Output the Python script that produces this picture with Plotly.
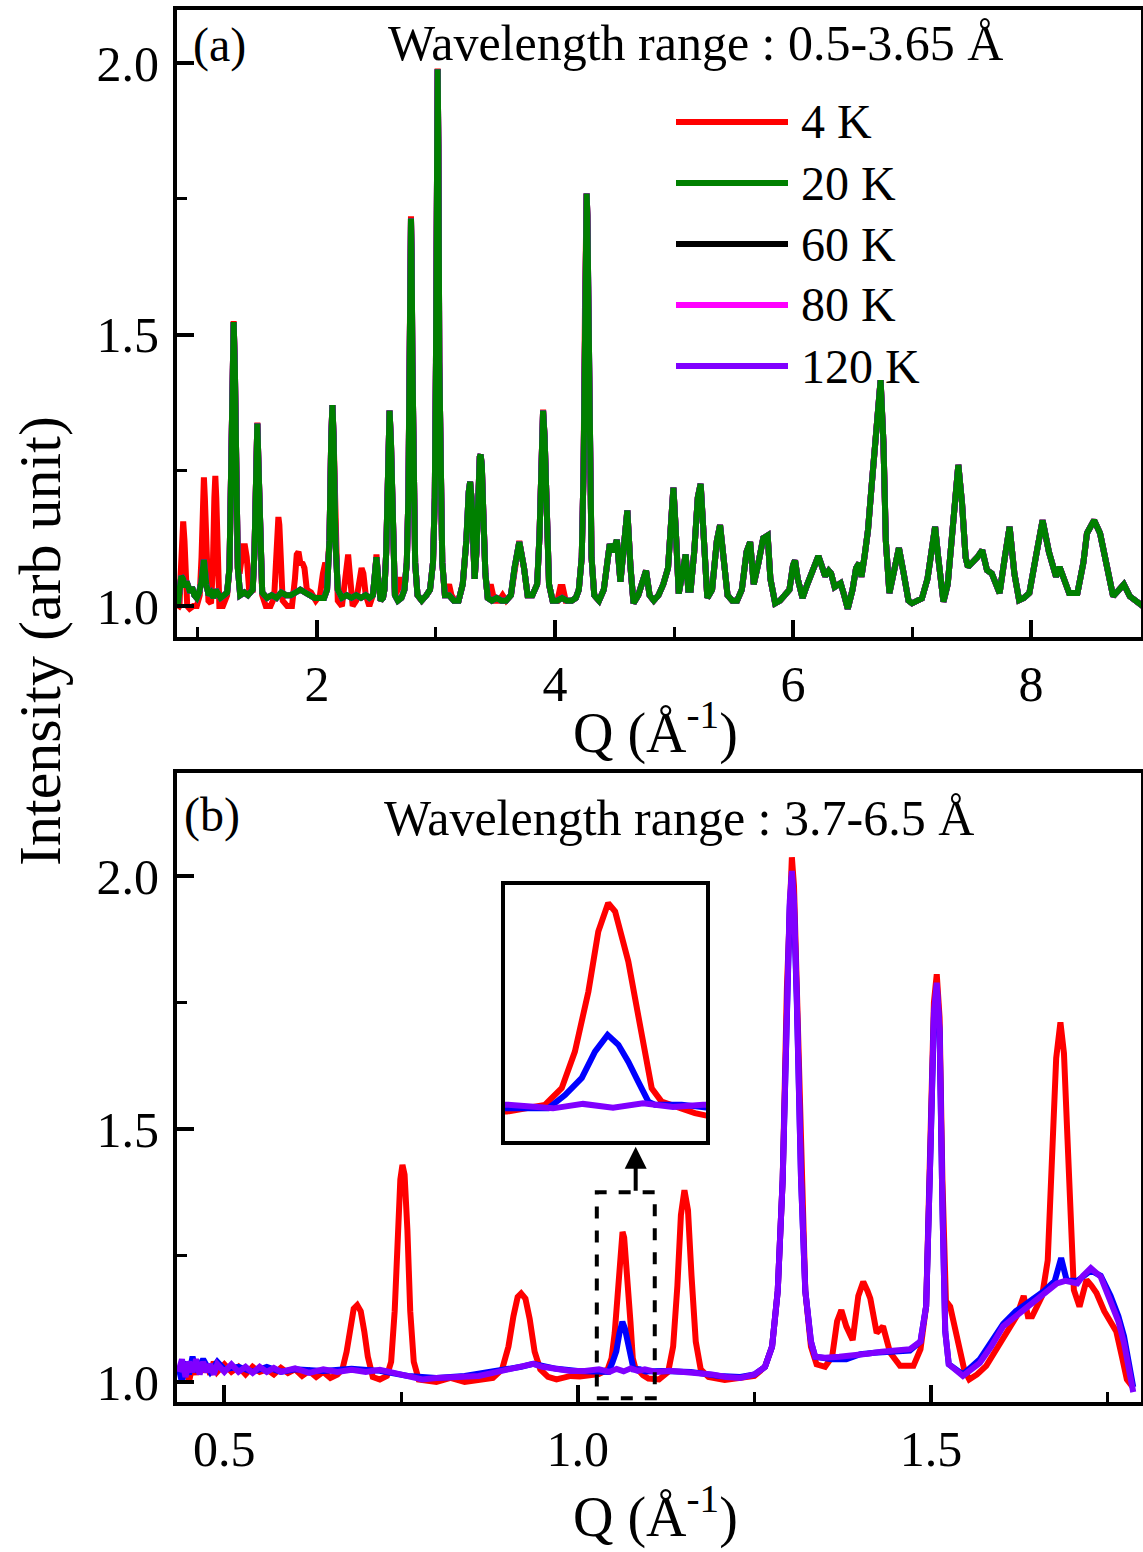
import plotly.graph_objects as go

W, H = 1143, 1552
FONT = "Liberation Serif, Times New Roman, serif"

# ---------------- Panel (a): wavelength range 0.5-3.65 A  (Q, intensity) ----------------
pts_20k = [
    (0.83, 1.00), (0.845, 1.04), (0.86, 1.055), (0.875, 1.05), (0.89, 1.035), (0.905, 1.045), (0.92, 1.03),
    (0.935, 1.025), (0.95, 1.035), (0.97, 1.02), (0.99, 1.015), (1.01, 1.025), (1.03, 1.045), (1.05, 1.085),
    (1.07, 1.04), (1.09, 1.02), (1.11, 1.025), (1.13, 1.015), (1.15, 1.03), (1.17, 1.02), (1.19, 1.015),
    (1.22, 1.02), (1.245, 1.025), (1.265, 1.07), (1.278, 1.2), (1.29, 1.44), (1.30, 1.523), (1.31, 1.44),
    (1.322, 1.2), (1.335, 1.07), (1.355, 1.02), (1.39, 1.025), (1.42, 1.02), (1.44, 1.025), (1.46, 1.03),
    (1.475, 1.10), (1.488, 1.25), (1.499, 1.336), (1.51, 1.25), (1.523, 1.10), (1.54, 1.025), (1.58, 1.015),
    (1.62, 1.02), (1.66, 1.015), (1.70, 1.025), (1.74, 1.02), (1.78, 1.02), (1.82, 1.025), (1.86, 1.03),
    (1.90, 1.025), (1.94, 1.02), (1.98, 1.015), (2.02, 1.015), (2.06, 1.015), (2.085, 1.03), (2.105, 1.12),
    (2.12, 1.31), (2.13, 1.37), (2.14, 1.31), (2.155, 1.12), (2.175, 1.03), (2.21, 1.015), (2.25, 1.02),
    (2.29, 1.015), (2.33, 1.02), (2.37, 1.015), (2.41, 1.02), (2.44, 1.015), (2.47, 1.02), (2.485, 1.05),
    (2.50, 1.09), (2.515, 1.05), (2.535, 1.01), (2.555, 1.015), (2.567, 1.03), (2.582, 1.10), (2.598, 1.30),
    (2.61, 1.36), (2.622, 1.30), (2.638, 1.10), (2.655, 1.02), (2.68, 1.01), (2.71, 1.015), (2.735, 1.03),
    (2.755, 1.08), (2.768, 1.20), (2.778, 1.45), (2.785, 1.65), (2.79, 1.714), (2.795, 1.65), (2.802, 1.45),
    (2.812, 1.20), (2.825, 1.08), (2.845, 1.02), (2.88, 1.01), (2.92, 1.02), (2.95, 1.03), (2.975, 1.08),
    (2.99, 1.20), (3.0, 1.45), (3.008, 1.85), (3.014, 1.989), (3.02, 1.85), (3.028, 1.45), (3.038, 1.20),
    (3.053, 1.08), (3.075, 1.02), (3.11, 1.02), (3.15, 1.01), (3.19, 1.01), (3.225, 1.04), (3.255, 1.12),
    (3.275, 1.21), (3.287, 1.229), (3.298, 1.20), (3.312, 1.10), (3.325, 1.05), (3.34, 1.10), (3.355, 1.22),
    (3.368, 1.275), (3.375, 1.279), (3.385, 1.26), (3.398, 1.17), (3.415, 1.06), (3.435, 1.015), (3.47, 1.01),
    (3.51, 1.015), (3.55, 1.01), (3.59, 1.01), (3.63, 1.02), (3.66, 1.07), (3.70, 1.118), (3.74, 1.07),
    (3.77, 1.02), (3.81, 1.02), (3.85, 1.04), (3.87, 1.13), (3.887, 1.31), (3.90, 1.36), (3.913, 1.31),
    (3.93, 1.13), (3.95, 1.04), (3.98, 1.01), (4.02, 1.01), (4.06, 1.015), (4.10, 1.01), (4.14, 1.01),
    (4.175, 1.015), (4.20, 1.03), (4.225, 1.09), (4.24, 1.25), (4.252, 1.55), (4.26, 1.72), (4.266, 1.76),
    (4.272, 1.72), (4.28, 1.55), (4.292, 1.25), (4.307, 1.09), (4.33, 1.02), (4.37, 1.01), (4.41, 1.03),
    (4.44, 1.09), (4.46, 1.114), (4.49, 1.10), (4.52, 1.122), (4.55, 1.045), (4.58, 1.12), (4.608, 1.176),
    (4.635, 1.07), (4.66, 1.005), (4.70, 1.02), (4.735, 1.05), (4.765, 1.065), (4.795, 1.02), (4.83, 1.01),
    (4.87, 1.02), (4.91, 1.04), (4.95, 1.07), (4.975, 1.16), (4.995, 1.218), (5.015, 1.14), (5.04, 1.023),
    (5.07, 1.06), (5.098, 1.095), (5.12, 1.03), (5.14, 1.03), (5.17, 1.10), (5.2, 1.20), (5.224, 1.225),
    (5.25, 1.12), (5.28, 1.015), (5.32, 1.03), (5.36, 1.12), (5.387, 1.149), (5.41, 1.10), (5.45, 1.02),
    (5.49, 1.01), (5.53, 1.01), (5.57, 1.03), (5.61, 1.10), (5.64, 1.118), (5.67, 1.04), (5.71, 1.08),
    (5.75, 1.125), (5.787, 1.13), (5.81, 1.05), (5.85, 1.005), (5.89, 1.01), (5.93, 1.02), (5.97, 1.03),
    (6.0, 1.075), (6.017, 1.084), (6.04, 1.05), (6.08, 1.015), (6.12, 1.04), (6.16, 1.06), (6.19, 1.08),
    (6.213, 1.092), (6.24, 1.075), (6.27, 1.055), (6.30, 1.065), (6.32, 1.06), (6.35, 1.035), (6.40, 1.042),
    (6.43, 1.02), (6.46, 0.995), (6.50, 1.03), (6.53, 1.07), (6.556, 1.079), (6.575, 1.054), (6.60, 1.09),
    (6.63, 1.14), (6.66, 1.22), (6.70, 1.33), (6.736, 1.416), (6.76, 1.30), (6.78, 1.12), (6.81, 1.024),
    (6.85, 1.07), (6.89, 1.107), (6.93, 1.06), (6.97, 1.01), (7.0, 1.005), (7.04, 1.01), (7.083, 1.014),
    (7.13, 1.05), (7.17, 1.12), (7.194, 1.146), (7.22, 1.09), (7.264, 1.008), (7.30, 1.04), (7.35, 1.17),
    (7.389, 1.26), (7.42, 1.19), (7.45, 1.09), (7.47, 1.072), (7.51, 1.08), (7.55, 1.09), (7.59, 1.103),
    (7.63, 1.066), (7.67, 1.06), (7.70, 1.04), (7.736, 1.024), (7.78, 1.09), (7.82, 1.146), (7.86, 1.06),
    (7.90, 1.011), (7.94, 1.015), (7.986, 1.024), (8.04, 1.09), (8.097, 1.158), (8.15, 1.10), (8.21, 1.054),
    (8.24, 1.072), (8.28, 1.045), (8.32, 1.024), (8.39, 1.024), (8.44, 1.08), (8.47, 1.134), (8.53, 1.158),
    (8.58, 1.134), (8.63, 1.08), (8.69, 1.018), (8.74, 1.03), (8.78, 1.04), (8.83, 1.018), (8.88, 1.01),
    (8.92, 1.005), (8.94, 1.0),
]

# 4 K below Q = 4.2 (extra magnetic peaks); above that it follows the same nuclear pattern
pts_4k_low = [
    (0.83, 0.995), (0.845, 1.00), (0.855, 1.06), (0.865, 1.13), (0.876, 1.156), (0.887, 1.12), (0.897, 1.04),
    (0.91, 1.00), (0.93, 0.995), (0.96, 1.00), (0.99, 1.00), (1.015, 1.02), (1.03, 1.09), (1.042, 1.20),
    (1.05, 1.237), (1.058, 1.20), (1.07, 1.09), (1.088, 1.01), (1.11, 1.005), (1.125, 1.07), (1.138, 1.20),
    (1.146, 1.24), (1.154, 1.20), (1.165, 1.07), (1.18, 1.00), (1.21, 1.00), (1.245, 1.02), (1.265, 1.07),
    (1.278, 1.2), (1.29, 1.44), (1.30, 1.525), (1.31, 1.44), (1.322, 1.2), (1.335, 1.07), (1.35, 1.06),
    (1.365, 1.10), (1.38, 1.11), (1.395, 1.11), (1.41, 1.09), (1.43, 1.03), (1.46, 1.03), (1.475, 1.10),
    (1.488, 1.25), (1.499, 1.338), (1.51, 1.25), (1.523, 1.10), (1.54, 1.02), (1.57, 1.00), (1.61, 1.00),
    (1.64, 1.015), (1.655, 1.08), (1.668, 1.15), (1.676, 1.164), (1.684, 1.15), (1.697, 1.08), (1.712, 1.01),
    (1.75, 1.00), (1.79, 1.00), (1.815, 1.05), (1.83, 1.095), (1.845, 1.10), (1.86, 1.08), (1.88, 1.078),
    (1.895, 1.07), (1.915, 1.03), (1.95, 1.025), (1.99, 1.01), (2.025, 1.02), (2.05, 1.06), (2.07, 1.08),
    (2.085, 1.06), (2.105, 1.12), (2.12, 1.31), (2.13, 1.37), (2.14, 1.31), (2.155, 1.12), (2.175, 1.01),
    (2.21, 1.00), (2.235, 1.05), (2.25, 1.09), (2.262, 1.095), (2.28, 1.05), (2.30, 1.00), (2.33, 1.01),
    (2.355, 1.05), (2.375, 1.07), (2.39, 1.06), (2.41, 1.02), (2.44, 1.00), (2.47, 1.02), (2.485, 1.05),
    (2.50, 1.095), (2.515, 1.05), (2.535, 1.01), (2.555, 1.015), (2.567, 1.03), (2.582, 1.10), (2.598, 1.30),
    (2.61, 1.36), (2.622, 1.30), (2.638, 1.10), (2.655, 1.02), (2.68, 1.03), (2.70, 1.053), (2.72, 1.035),
    (2.735, 1.03), (2.755, 1.08), (2.768, 1.20), (2.778, 1.45), (2.785, 1.65), (2.79, 1.718), (2.795, 1.65),
    (2.802, 1.45), (2.812, 1.20), (2.825, 1.08), (2.845, 1.02), (2.88, 1.01), (2.92, 1.02), (2.95, 1.03),
    (2.975, 1.08), (2.99, 1.20), (3.0, 1.45), (3.008, 1.85), (3.014, 1.99), (3.02, 1.85), (3.028, 1.45),
    (3.038, 1.20), (3.053, 1.08), (3.075, 1.02), (3.095, 1.035), (3.11, 1.04), (3.13, 1.02), (3.16, 1.01),
    (3.19, 1.01), (3.225, 1.04), (3.255, 1.12), (3.275, 1.21), (3.287, 1.229), (3.298, 1.20), (3.312, 1.10),
    (3.325, 1.05), (3.34, 1.10), (3.355, 1.22), (3.368, 1.275), (3.375, 1.279), (3.385, 1.26), (3.398, 1.17),
    (3.415, 1.06), (3.435, 1.015), (3.46, 1.04), (3.49, 1.01), (3.53, 1.01), (3.56, 1.02), (3.59, 1.01),
    (3.63, 1.02), (3.66, 1.07), (3.70, 1.12), (3.74, 1.07), (3.77, 1.02), (3.81, 1.02), (3.85, 1.04),
    (3.87, 1.13), (3.887, 1.31), (3.90, 1.362), (3.913, 1.31), (3.93, 1.13), (3.95, 1.04), (3.98, 1.01),
    (4.02, 1.01), (4.045, 1.035), (4.065, 1.035), (4.09, 1.01), (4.14, 1.01), (4.175, 1.015),
]
_split = [q for q, _ in pts_20k].index(4.20)
pts_4k = pts_4k_low + pts_20k[_split:]

series_a = [  # label, colour, points -- drawing order (20 K ends on top)
    ("4 K", "#ff0000", pts_4k),
    ("60 K", "#000000", pts_20k),
    ("80 K", "#ff00ff", pts_20k),
    ("120 K", "#8000ff", pts_20k),
    ("20 K", "#008000", pts_20k),
]
legend_labels = ["4 K", "20 K", "60 K", "80 K", "120 K"]
legend_colors = ["#ff0000", "#008000", "#000000", "#ff00ff", "#8000ff"]

# ---------------- Panel (b): wavelength range 3.7-6.5 A ----------------
pts_red_b = [
    (0.435, 1.03), (0.44, 1.01), (0.445, 1.04), (0.45, 1.00), (0.455, 1.035), (0.46, 1.015), (0.465, 1.04),
    (0.47, 1.02), (0.475, 1.035), (0.48, 1.015), (0.485, 1.04), (0.49, 1.02), (0.50, 1.035), (0.51, 1.02),
    (0.52, 1.03), (0.53, 1.015), (0.54, 1.03), (0.55, 1.02), (0.56, 1.025), (0.57, 1.015), (0.58, 1.028),
    (0.59, 1.018), (0.60, 1.025), (0.61, 1.012), (0.62, 1.022), (0.63, 1.01), (0.64, 1.02), (0.65, 1.008),
    (0.66, 1.015), (0.667, 1.025), (0.673, 1.06), (0.678, 1.11), (0.683, 1.145), (0.688, 1.152), (0.693, 1.14),
    (0.698, 1.10), (0.703, 1.05), (0.71, 1.01), (0.72, 1.005), (0.73, 1.012), (0.736, 1.04), (0.741, 1.14),
    (0.745, 1.29), (0.749, 1.40), (0.752, 1.429), (0.755, 1.41), (0.759, 1.30), (0.763, 1.14), (0.768, 1.04),
    (0.775, 1.005), (0.80, 1.00), (0.82, 1.008), (0.84, 1.00), (0.86, 1.005), (0.88, 1.008), (0.893, 1.025),
    (0.902, 1.07), (0.909, 1.13), (0.915, 1.168), (0.920, 1.175), (0.926, 1.165), (0.932, 1.125), (0.939, 1.06),
    (0.947, 1.025), (0.958, 1.01), (0.97, 1.005), (0.99, 1.012), (1.003, 1.011), (1.02, 1.015),
    (1.0296, 1.0157), (1.0423, 1.0247), (1.0479, 1.0472), (1.0523, 1.0965), (1.0568, 1.1774),
    (1.0601, 1.2583), (1.0634, 1.2966), (1.0657, 1.2853), (1.0701, 1.2179), (1.0746, 1.1191),
    (1.0779, 1.0472), (1.0812, 1.0291), (1.0879, 1.0202), (1.0923, 1.0135), (1.10, 1.007), (1.115, 1.005),
    (1.128, 1.02), (1.135, 1.07), (1.141, 1.19), (1.146, 1.33), (1.151, 1.379), (1.156, 1.34), (1.161, 1.21),
    (1.167, 1.08), (1.174, 1.025), (1.185, 1.01), (1.208, 1.004), (1.23, 1.008), (1.25, 1.012), (1.265, 1.03),
    (1.275, 1.07), (1.283, 1.18), (1.29, 1.40), (1.296, 1.78), (1.300, 1.98), (1.303, 2.037), (1.306, 1.98),
    (1.310, 1.78), (1.316, 1.40), (1.322, 1.18), (1.33, 1.07), (1.338, 1.035), (1.35, 1.03), (1.36, 1.05),
    (1.367, 1.12), (1.373, 1.142), (1.38, 1.11), (1.389, 1.083), (1.397, 1.17), (1.404, 1.198), (1.41, 1.18),
    (1.414, 1.165), (1.423, 1.097), (1.432, 1.11), (1.442, 1.058), (1.456, 1.032), (1.475, 1.032),
    (1.485, 1.065), (1.493, 1.15), (1.499, 1.45), (1.504, 1.75), (1.508, 1.806), (1.512, 1.72), (1.516, 1.40),
    (1.521, 1.16), (1.527, 1.149), (1.54, 1.064), (1.547, 1.024), (1.554, 1.005), (1.565, 1.015),
    (1.578, 1.032), (1.59, 1.06), (1.602, 1.084), (1.612, 1.11), (1.621, 1.13), (1.631, 1.17), (1.637, 1.13),
    (1.643, 1.13), (1.65, 1.15), (1.657, 1.17), (1.665, 1.24), (1.671, 1.42), (1.677, 1.64), (1.683, 1.711),
    (1.688, 1.65), (1.693, 1.48), (1.697, 1.34), (1.702, 1.182), (1.71, 1.149), (1.72, 1.202), (1.727, 1.19),
    (1.734, 1.176), (1.745, 1.14), (1.753, 1.123), (1.762, 1.10), (1.77, 1.05), (1.777, 1.005), (1.786, 0.989),
]

pts_blue_b = [
    (0.435, 1.03), (0.44, 1.00), (0.445, 1.04), (0.45, 1.015), (0.455, 1.05), (0.46, 1.02), (0.47, 1.045),
    (0.48, 1.02), (0.49, 1.04), (0.50, 1.025), (0.52, 1.03), (0.54, 1.02), (0.56, 1.03), (0.58, 1.02),
    (0.60, 1.025), (0.64, 1.022), (0.68, 1.026), (0.72, 1.022), (0.76, 1.012), (0.80, 1.008), (0.84, 1.012),
    (0.88, 1.02), (0.92, 1.03), (0.937, 1.036), (0.97, 1.026), (1.00, 1.022), (1.0296, 1.02), (1.0434, 1.020),
    (1.049, 1.038), (1.0546, 1.061), (1.059, 1.0965), (1.0632, 1.119), (1.0668, 1.1056), (1.0701, 1.083),
    (1.0734, 1.056), (1.0768, 1.029), (1.079, 1.025), (1.0879, 1.025), (1.096, 1.021), (1.12, 1.022),
    (1.16, 1.02), (1.20, 1.012), (1.23, 1.01), (1.25, 1.015), (1.265, 1.03), (1.275, 1.07), (1.283, 1.18),
    (1.29, 1.40), (1.296, 1.75), (1.300, 1.94), (1.303, 2.00), (1.306, 1.94), (1.310, 1.75), (1.316, 1.40),
    (1.322, 1.18), (1.33, 1.08), (1.336, 1.05), (1.36, 1.045), (1.38, 1.045), (1.40, 1.055), (1.42, 1.058),
    (1.45, 1.06), (1.47, 1.062), (1.485, 1.08), (1.493, 1.15), (1.499, 1.45), (1.504, 1.72), (1.508, 1.78),
    (1.512, 1.69), (1.516, 1.35), (1.520, 1.10), (1.525, 1.035), (1.545, 1.015), (1.569, 1.045),
    (1.585, 1.08), (1.602, 1.115), (1.62, 1.14), (1.64, 1.16), (1.66, 1.18), (1.675, 1.20), (1.684, 1.245),
    (1.692, 1.20), (1.707, 1.20), (1.726, 1.22), (1.74, 1.21), (1.754, 1.17), (1.765, 1.13), (1.773, 1.09),
    (1.78, 1.04), (1.786, 0.99),
]

pts_purple_b = [
    (0.435, 1.02), (0.44, 1.045), (0.445, 1.01), (0.45, 1.04), (0.455, 1.02), (0.46, 1.045), (0.465, 1.015),
    (0.47, 1.04), (0.475, 1.02), (0.48, 1.035), (0.485, 1.015), (0.49, 1.035), (0.50, 1.02), (0.51, 1.035),
    (0.52, 1.02), (0.53, 1.03), (0.54, 1.018), (0.55, 1.03), (0.56, 1.02), (0.57, 1.028), (0.58, 1.02),
    (0.60, 1.027), (0.62, 1.018), (0.64, 1.025), (0.66, 1.02), (0.68, 1.024), (0.70, 1.02), (0.72, 1.024),
    (0.74, 1.018), (0.76, 1.01), (0.78, 1.005), (0.80, 1.008), (0.82, 1.01), (0.84, 1.012), (0.86, 1.012),
    (0.88, 1.018), (0.90, 1.025), (0.92, 1.03), (0.937, 1.036), (0.95, 1.03), (0.97, 1.025), (0.99, 1.022),
    (1.01, 1.022), (1.03, 1.025), (1.045, 1.020), (1.055, 1.026), (1.065, 1.021), (1.075, 1.027),
    (1.085, 1.022), (1.095, 1.025), (1.11, 1.02), (1.13, 1.022), (1.15, 1.02), (1.17, 1.018), (1.19, 1.015),
    (1.21, 1.01), (1.23, 1.008), (1.25, 1.015), (1.265, 1.03), (1.275, 1.07), (1.283, 1.18), (1.29, 1.40),
    (1.296, 1.76), (1.300, 1.95), (1.303, 2.01), (1.306, 1.95), (1.310, 1.76), (1.316, 1.40), (1.322, 1.18),
    (1.33, 1.08), (1.336, 1.05), (1.35, 1.048), (1.37, 1.05), (1.39, 1.052), (1.41, 1.056), (1.43, 1.06),
    (1.45, 1.062), (1.47, 1.065), (1.485, 1.08), (1.493, 1.15), (1.499, 1.45), (1.504, 1.73), (1.508, 1.789),
    (1.512, 1.70), (1.516, 1.35), (1.520, 1.10), (1.525, 1.035), (1.545, 1.012), (1.569, 1.038),
    (1.585, 1.07), (1.602, 1.11), (1.62, 1.13), (1.635, 1.15), (1.649, 1.162), (1.665, 1.18), (1.678, 1.195),
    (1.69, 1.20), (1.707, 1.195), (1.715, 1.21), (1.726, 1.225), (1.74, 1.208), (1.754, 1.162), (1.765, 1.12),
    (1.773, 1.077), (1.78, 1.03), (1.786, 0.98),
]

series_b = [("#ff0000", pts_red_b), ("#0000ff", pts_blue_b), ("#8000ff", pts_purple_b)]


def unzip(pts):
    return [p[0] for p in pts], [p[1] for p in pts]


fig = go.Figure()
for name, col, pts in series_a:
    q, i = unzip(pts)
    fig.add_trace(go.Scatter(x=q, y=i, mode="lines", line=dict(color=col, width=6), name=name,
                             showlegend=False, hoverinfo="skip", xaxis="x", yaxis="y"))
for ax in (("x2", "y2"), ("x3", "y3")):
    for col, pts in series_b:
        q, i = unzip(pts)
        fig.add_trace(go.Scatter(x=q, y=i, mode="lines", line=dict(color=col, width=6), showlegend=False,
                                 hoverinfo="skip", xaxis=ax[0], yaxis=ax[1]))


def px_x(x):
    return x / W


def px_y(y):
    return 1 - y / H


tickfont = dict(family=FONT, size=50, color="black")
common = dict(showline=True, linewidth=4, linecolor="black", mirror=True, showgrid=False, zeroline=False,
              ticks="inside", ticklen=17, tickwidth=4, tickcolor="black", tickfont=tickfont, automargin=False)
minor_y = dict(tickvals=[1.25, 1.75], ticks="inside", ticklen=10, tickwidth=3, tickcolor="black")

fig.update_layout(
    width=W, height=H, margin=dict(l=0, r=0, t=0, b=0), paper_bgcolor="white", plot_bgcolor="white",
    template="none", showlegend=False,
    xaxis=dict(domain=[px_x(177), px_x(1141)], range=[0.824, 8.924], anchor="y",
               tickvals=[2, 4, 6, 8], ticktext=["2", "4", "6", "8"],
               minor=dict(tickvals=[1, 3, 5, 7], ticks="inside", ticklen=10, tickwidth=3, tickcolor="black"),
               **common),
    yaxis=dict(domain=[px_y(637), px_y(10)], range=[0.943, 2.098], anchor="x",
               tickvals=[1.0, 1.5, 2.0], ticktext=["1.0", "1.5", "2.0"], minor=minor_y,
               ticklabelstandoff=4, **common),
    xaxis2=dict(domain=[px_x(177), px_x(1141)], range=[0.433, 1.797], anchor="y2",
                tickvals=[0.5, 1.0, 1.5], ticktext=["0.5", "1.0", "1.5"],
                minor=dict(tickvals=[0.75, 1.25, 1.75], ticks="inside", ticklen=10, tickwidth=3,
                           tickcolor="black"),
                **common),
    yaxis2=dict(domain=[px_y(1402), px_y(773)], range=[0.9605, 2.2036], anchor="x2",
                tickvals=[1.0, 1.5, 2.0], ticktext=["1.0", "1.5", "2.0"], minor=minor_y,
                ticklabelstandoff=4, **common),
    xaxis3=dict(domain=[px_x(505), px_x(706)], range=[1.029, 1.096], anchor="y3", showline=True,
                linewidth=4, linecolor="black", mirror=True, showgrid=False, zeroline=False,
                showticklabels=False, ticks=""),
    yaxis3=dict(domain=[px_y(1141), px_y(885)], range=[0.976, 1.321], anchor="x3", showline=True,
                linewidth=4, linecolor="black", mirror=True, showgrid=False, zeroline=False,
                showticklabels=False, ticks=""),
)

ann = []
txt = dict(family=FONT, color="black")
ann.append(dict(text="Intensity (arb unit)", x=px_x(40), y=px_y(641), xref="paper", yref="paper",
                textangle=-90, showarrow=False, font=dict(size=60, **txt), xanchor="center", yanchor="middle"))
for ypix in (729, 1513):
    ann.append(dict(text="Q (Å<sup>-1</sup>)", x=px_x(655), y=px_y(ypix), xref="paper", yref="paper",
                    showarrow=False, font=dict(size=56, **txt), xanchor="center", yanchor="middle"))
ann.append(dict(text="(a)", x=px_x(191), y=px_y(45), xref="paper", yref="paper", showarrow=False,
                font=dict(size=48, **txt), xanchor="left", yanchor="middle"))
ann.append(dict(text="Wavelength range : 0.5-3.65 Å", x=px_x(695), y=px_y(43), xref="paper", yref="paper",
                showarrow=False, font=dict(size=50, **txt), xanchor="center", yanchor="middle"))
ann.append(dict(text="(b)", x=px_x(182), y=px_y(815), xref="paper", yref="paper", showarrow=False,
                font=dict(size=48, **txt), xanchor="left", yanchor="middle"))
ann.append(dict(text="Wavelength range : 3.7-6.5 Å", x=px_x(679), y=px_y(818), xref="paper", yref="paper",
                showarrow=False, font=dict(size=50, **txt), xanchor="center", yanchor="middle"))

shapes = []
for k, (lab, col) in enumerate(zip(legend_labels, legend_colors)):
    yy = 122 + 61 * k
    shapes.append(dict(type="line", xref="paper", yref="paper", x0=px_x(676), x1=px_x(788),
                       y0=px_y(yy), y1=px_y(yy), line=dict(color=col, width=6)))
    ann.append(dict(text=lab, x=px_x(799), y=px_y(yy), xref="paper", yref="paper", showarrow=False,
                    font=dict(size=48, **txt), xanchor="left", yanchor="middle"))

# dashed box marking the zoomed region in panel (b), with arrow to the inset
shapes.append(dict(type="rect", xref="x2", yref="y2", x0=1.027, x1=1.109, y0=0.968, y1=1.375,
                   line=dict(color="black", width=4, dash="dash")))
ann.append(dict(x=1.082, y=1.465, ax=1.082, ay=1.375, xref="x2", yref="y2", axref="x2", ayref="y2",
                showarrow=True, arrowhead=2, arrowsize=1.1, arrowwidth=4, arrowcolor="black", text=""))

fig.update_layout(annotations=ann, shapes=shapes)
fig.write_html("out.html", config={"displayModeBar": False},
               post_script="document.body.style.margin='0';document.body.style.padding='0';")
